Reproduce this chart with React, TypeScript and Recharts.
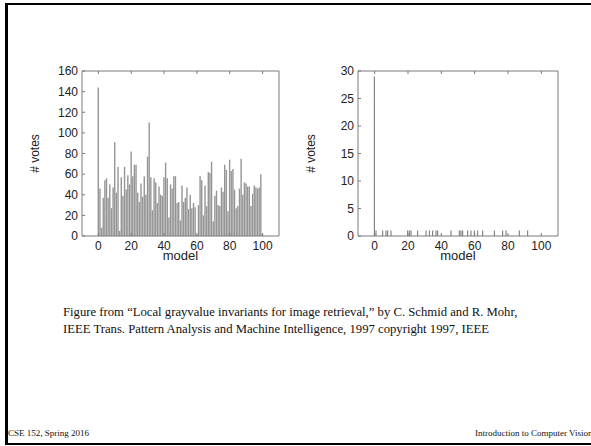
import { Bar, BarChart, XAxis, YAxis } from "recharts";

// votes per model, query 1 (models 0..100)
const leftVotes = [
  144, 46, 8, 37, 54, 56, 37, 50, 27, 47, 91, 42, 67, 5, 57, 39, 67, 45, 59, 50,
  82, 58, 69, 69, 42, 33, 51, 38, 58, 40, 77, 110, 57, 25, 56, 52, 32, 48, 40, 39,
  57, 71, 56, 18, 50, 46, 58, 58, 32, 33, 15, 49, 33, 37, 47, 26, 40, 27, 32, 28,
  1, 30, 58, 54, 20, 49, 29, 62, 61, 72, 14, 39, 44, 30, 29, 47, 43, 69, 64, 24,
  74, 63, 65, 45, 27, 29, 46, 75, 40, 52, 51, 48, 48, 29, 41, 49, 47, 46, 47, 60,
  2,
];

// query 2: only the models that got votes
const rightModels = [0, 1, 5, 7, 8, 10, 20, 21, 22, 26, 31, 33, 35, 37, 38, 46, 51, 52, 53, 56, 58, 60, 62, 65, 72, 77, 79, 87, 92];
const rightVotes = [29, 1, 1, 1, 1, 1, 1, 1, 1, 1, 1, 1, 1, 1, 1, 1, 1, 1, 1, 1, 1, 1, 1, 1, 1, 1, 1, 1, 1];

const modelTicks = [0, 20, 40, 60, 80, 100];
const leftTicks = [0, 20, 40, 60, 80, 100, 120, 140, 160];
const rightTicks = [0, 5, 10, 15, 20, 25, 30];

const leftData = leftVotes.map((v, i) => ({ model: i, votes: v }));
const rightData = rightModels.map((m, i) => ({ model: m, votes: rightVotes[i] }));

const FONT = "'Liberation Sans', Arial, sans-serif";
const FRAME = "#7a7a7a";
const tickStyle = { fontSize: 12, fill: "#222", fontFamily: FONT };
const blank = () => "";

const yLabel = (props: any) => {
  const { viewBox } = props;
  const x = viewBox.x - 7;
  const y = viewBox.y + viewBox.height / 2;
  return (
    <text x={x} y={y} transform={`rotate(-90, ${x}, ${y})`} textAnchor='middle' dominantBaseline='central'
      fontSize={12} fill='#222' fontFamily={FONT}>
      # votes
    </text>
  );
};

function Histogram(props: { width: number; data: { model: number; votes: number }[]; yMax: number; yTicks: number[]; barSize: number; fill: string }) {
  return (
    <BarChart width={props.width} height={270} data={props.data} margin={{ top: 70, right: 20, bottom: 4, left: 42 }}>
      <XAxis dataKey='model' type='number' domain={[-10, 110]} ticks={modelTicks} allowDataOverflow
        stroke={FRAME} tick={tickStyle} tickSize={-3} tickMargin={8} height={30}
        label={{ value: "model", position: "insideBottom", offset: 6, fontSize: 13, fill: "#222", fontFamily: FONT }} />
      <XAxis xAxisId='top' orientation='top' dataKey='model' type='number' domain={[-10, 110]} ticks={modelTicks}
        allowDataOverflow stroke={FRAME} tickSize={-3} tickFormatter={blank} height={1} />
      <YAxis domain={[0, props.yMax]} ticks={props.yTicks} stroke={FRAME} tick={tickStyle} tickSize={-3} tickMargin={7}
        width={40} allowDataOverflow label={yLabel} />
      <YAxis yAxisId='right' orientation='right' domain={[0, props.yMax]} ticks={props.yTicks} stroke={FRAME}
        tickSize={-3} tickFormatter={blank} width={1} />
      <Bar dataKey='votes' fill={props.fill} barSize={props.barSize} isAnimationActive={false} />
    </BarChart>
  );
}

export default function App() {
  return (
    <div style={{ position: "absolute", left: 0, top: 0, width: 591, height: 446, overflow: "hidden", background: "#fff" }}>
      <div style={{ position: "absolute", left: 5, top: 3, width: 620, height: 438, borderLeft: "3px solid #000", borderTop: "2px solid #000", borderBottom: "2px solid #000" }} />
      <div style={{ position: "absolute", left: 0, top: 0 }}>
        <Histogram width={300} data={leftData} yMax={160} yTicks={leftTicks} barSize={1.4} fill='#959595' />
      </div>
      <div style={{ position: "absolute", left: 276, top: 0 }}>
        <Histogram width={303} data={rightData} yMax={30} yTicks={rightTicks} barSize={1} fill='#6e6e6e' />
      </div>
      <div style={{ position: "absolute", left: 63, top: 304, fontFamily: "'Liberation Serif', 'Times New Roman', serif", fontSize: 12.7, lineHeight: "17px", color: "#111" }}>
        <div>Figure from “Local grayvalue invariants for image retrieval,” by C. Schmid and R. Mohr,</div>
        <div>IEEE Trans. Pattern Analysis and Machine Intelligence, 1997 copyright 1997, IEEE</div>
      </div>
      <div style={{ position: "absolute", left: 8, top: 427, fontFamily: "'Liberation Serif', serif", fontSize: 9, lineHeight: "12px", color: "#111" }}>
        CSE 152, Spring 2016
      </div>
      <div style={{ position: "absolute", left: 475, top: 427, whiteSpace: "nowrap", fontFamily: "'Liberation Serif', serif", fontSize: 9, lineHeight: "12px", color: "#111" }}>
        Introduction to Computer Vision
      </div>
    </div>
  );
}
